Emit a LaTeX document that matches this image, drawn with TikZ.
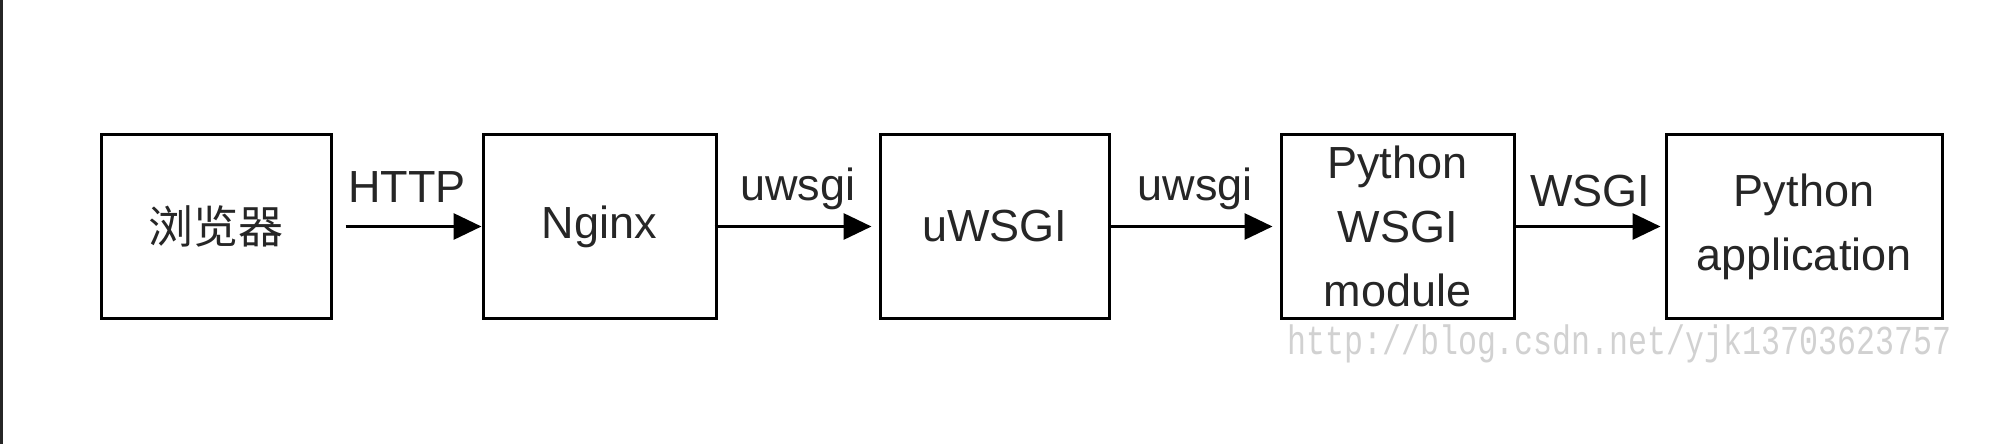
\documentclass[tikz,border=0pt]{standalone}
\usepackage{fontspec}
\setmainfont{Liberation Sans}
\newfontfamily\cjk{Noto Sans CJK SC}
\newfontfamily\wmfont{Liberation Mono}
\usetikzlibrary{arrows.meta}
\begin{document}
\begin{tikzpicture}[x=0.5pt,y=-0.5pt,
  blk/.style={draw=black, line width=1.5pt, minimum height=91.5pt, inner sep=0pt, align=center, text=black!85, font=\fontsize{22.5}{32}\selectfont},
  conn/.style={line width=1.6pt, -{Triangle[length=14pt,width=13pt]}},
  lbl/.style={font=\fontsize{22.5}{27}\selectfont, text=black!85, anchor=base, inner sep=0pt}]
\useasboundingbox (0,0) rectangle (2012,444);
\fill[white] (0,0) rectangle (2012,444);
\fill[black!85] (0,0) rectangle (3,444);
\node[blk, minimum width=115pt] (b1) at (216,226.5) {\cjk 浏览器};
\node[blk, minimum width=116.5pt] (b2) at (599.5,226.5) {Nginx};
\node[blk, minimum width=114.5pt] (b3) at (994.5,226.5) {uWSGI};
\node[blk, minimum width=116.5pt] (b4) at (1397.5,226.5) {Python\\WSGI\\module};
\node[blk, minimum width=138pt] (b5) at (1804,226.5) {Python\\application};
\draw[conn, shorten <=6.5pt] (b1) -- (b2) node[lbl, midway, yshift=12pt] {HTTP};
\draw[conn, shorten <=-1.5pt, shorten >=3.5pt] (b2) -- (b3) node[lbl, midway, yshift=13pt] {uwsgi};
\draw[conn, shorten >=3.5pt] (b3) -- (b4) node[lbl, midway, yshift=13pt] {uwsgi};
\draw[conn, shorten >=2pt] (b4) -- (b5) node[lbl, midway, yshift=10pt] {WSGI};
\node[anchor=base west, inner sep=0pt, text=black!18, font=\wmfont\fontsize{15.8}{18}\selectfont] (wm) at (1287,354) {\scalebox{1}[1.3]{http://blog.csdn.net/yjk13703623757}};
\end{tikzpicture}
\end{document}
